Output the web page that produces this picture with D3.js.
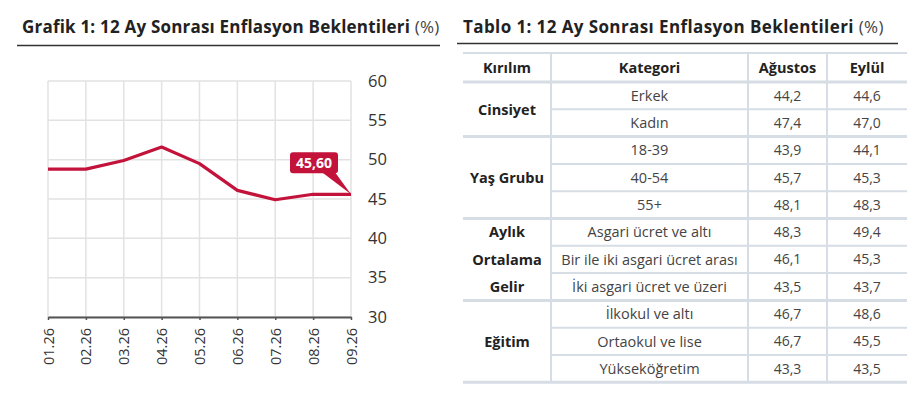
<!DOCTYPE html>
<html>
<head>
<meta charset="utf-8">
<script src="https://cdn.jsdelivr.net/npm/d3@7"></script>
<style>
  body { margin: 0; background: #fff; }
  svg { font-family: "Open Sans", sans-serif; }
</style>
</head>
<body>
<div id="chart"></div>
<script>
// chart data
var months = ["01.26", "02.26", "03.26", "04.26", "05.26", "06.26", "07.26", "08.26", "09.26"];
var expectations = [48.8, 48.8, 49.9, 51.6, 49.5, 46.1, 44.9, 45.6, 45.6];
var yTicks = [30, 35, 40, 45, 50, 55, 60];

// table data
var tableHeaders = ["Kırılım", "Kategori", "Ağustos", "Eylül"];
var groups = [
  { name: ["Cinsiyet"], size: 2 },
  { name: ["Yaş Grubu"], size: 3 },
  { name: ["Aylık", "Ortalama", "Gelir"], size: 3 },
  { name: ["Eğitim"], size: 3 }
];
var categories = ["Erkek", "Kadın", "18-39", "40-54", "55+", "Asgari ücret ve altı",
  "Bir ile iki asgari ücret arası", "İki asgari ücret ve üzeri", "İlkokul ve altı",
  "Ortaokul ve lise", "Yükseköğretim"];
var august = ["44,2", "47,4", "43,9", "45,7", "48,1", "48,3", "46,1", "43,5", "46,7", "46,7", "43,3"];
var september = ["44,6", "47,0", "44,1", "45,3", "48,3", "49,4", "45,3", "43,7", "48,6", "45,5", "43,5"];

var svgWidth = 908;
var svgHeight = 410;
var red = "#c3133b";

var svg = d3.select("#chart")
  .append("svg")
  .attr("width", svgWidth)
  .attr("height", svgHeight);

//Titles
function title(x, lineX1, lineX2, lineY, label, spacing) {
  var t = svg.append("text")
    .attr("x", x)
    .attr("y", 33)
    .attr("fill", "#222")
    .attr("font-size", "17px")
    .attr("font-weight", "bold")
    .attr("letter-spacing", spacing)
    .text(label);
  t.append("tspan")
    .attr("font-weight", "normal")
    .attr("fill", "#444")
    .text(" (%)");
  svg.append("line")
    .attr("x1", lineX1).attr("x2", lineX2)
    .attr("y1", lineY).attr("y2", lineY)
    .attr("stroke", "#333")
    .attr("stroke-width", 1.5);
}
title(22, 17, 440, 45.5, "Grafik 1: 12 Ay Sonrası Enflasyon Beklentileri", "0.2px");
title(463, 457, 898, 43.5, "Tablo 1: 12 Ay Sonrası Enflasyon Beklentileri", "0.4px");

//Line chart
var x = d3.scalePoint().domain(months).range([48, 351]);
var y = d3.scaleLinear().domain([30, 60]).range([317, 81]);

var chart = svg.append("g");

chart.selectAll(".hgrid")
  .data(yTicks)
  .enter()
  .append("line")
  .attr("x1", 48).attr("x2", 351)
  .attr("y1", d => y(d)).attr("y2", d => y(d))
  .attr("stroke", "#e2e2e2")
  .attr("stroke-width", 1.5);

chart.selectAll(".vgrid")
  .data(months)
  .enter()
  .append("line")
  .attr("x1", d => x(d)).attr("x2", d => x(d))
  .attr("y1", y(60)).attr("y2", y(30))
  .attr("stroke", "#e2e2e2")
  .attr("stroke-width", 1.5);

var rightAxis = d3.axisRight(y).tickValues(yTicks).tickSize(0).tickPadding(17);
var yAxis = chart.append("g")
  .attr("transform", "translate(351,0)")
  .call(rightAxis);
yAxis.select(".domain").remove();
yAxis.selectAll("text")
  .attr("font-family", "Open Sans")
  .attr("font-size", "16.5px")
  .attr("fill", "#333");

var bottomAxis = d3.axisBottom(x).tickSize(3).tickSizeOuter(0);
var xAxis = chart.append("g")
  .attr("transform", "translate(0," + y(30) + ")")
  .call(bottomAxis);
xAxis.select(".domain").attr("stroke", "#555").attr("stroke-width", 2);
xAxis.selectAll(".tick line").attr("stroke", "#555").attr("stroke-width", 1.5);
xAxis.selectAll("text")
  .attr("font-family", "Open Sans")
  .attr("font-size", "14.5px")
  .attr("fill", "#333")
  .attr("transform", "rotate(-90)")
  .attr("text-anchor", "end")
  .attr("x", -11)
  .attr("y", 0)
  .attr("dy", "0.35em");

var line = d3.line()
  .x((d, i) => x(months[i]))
  .y(d => y(d));

chart.append("path")
  .datum(expectations)
  .attr("d", line)
  .attr("fill", "none")
  .attr("stroke", red)
  .attr("stroke-width", 3.2)
  .attr("stroke-linejoin", "round");

//Last value callout
var lastI = expectations.length - 1;
var px = x(months[lastI]);
var py = y(expectations[lastI]);
var boxW = 48, boxH = 21;
var boxR = px - 13, boxB = py - 21;

chart.append("path")
  .attr("d", "M" + (boxR - 16) + "," + (boxB - 1) + "L" + (boxR - 3) + "," + (boxB - 1) + "L" + px + "," + py + "Z")
  .attr("fill", red);
chart.append("rect")
  .attr("x", boxR - boxW)
  .attr("y", boxB - boxH)
  .attr("width", boxW)
  .attr("height", boxH)
  .attr("rx", 3)
  .attr("fill", red);
chart.append("text")
  .attr("x", boxR - boxW / 2)
  .attr("y", boxB - boxH / 2)
  .attr("dy", "0.36em")
  .attr("text-anchor", "middle")
  .attr("fill", "#fff")
  .attr("font-size", "14px")
  .attr("font-weight", "bold")
  .text(d3.format(".2f")(expectations[lastI]).replace(".", ","));

//Table
var colEdges = [463, 551, 748, 827, 907];
var headerTop = 53, headerBottom = 82, rowH = 27.3;
var lineColor = "#d6dde4";
var table = svg.append("g");

var rowY = d3.scaleLinear().domain([0, categories.length]).range([headerBottom, headerBottom + rowH * categories.length]);

// header
table.selectAll(".head")
  .data(tableHeaders)
  .enter()
  .append("text")
  .attr("x", (d, i) => (colEdges[i] + colEdges[i + 1]) / 2)
  .attr("y", (headerTop + headerBottom) / 2)
  .attr("dy", "0.36em")
  .attr("text-anchor", "middle")
  .attr("font-size", "14.5px")
  .attr("font-weight", "bold")
  .attr("fill", "#222")
  .text(d => d);

// horizontal lines inside groups
var groupStarts = [];
var acc = 0;
groups.forEach(function(g) { groupStarts.push(acc); acc += g.size; });

var rowLines = d3.range(categories.length + 1).filter(i => groupStarts.indexOf(i) < 0 && i < categories.length);
table.selectAll(".rowline")
  .data(rowLines)
  .enter()
  .append("line")
  .attr("x1", colEdges[1]).attr("x2", colEdges[4])
  .attr("y1", d => rowY(d)).attr("y2", d => rowY(d))
  .attr("stroke", lineColor)
  .attr("stroke-width", 2);

// group lines
table.selectAll(".groupline")
  .data(groupStarts.concat([categories.length]))
  .enter()
  .append("line")
  .attr("x1", colEdges[0]).attr("x2", colEdges[4])
  .attr("y1", d => rowY(d)).attr("y2", d => rowY(d))
  .attr("stroke", lineColor)
  .attr("stroke-width", 3);

table.append("line")
  .attr("x1", colEdges[0]).attr("x2", colEdges[4])
  .attr("y1", headerTop).attr("y2", headerTop)
  .attr("stroke", lineColor)
  .attr("stroke-width", 2);

// vertical lines
table.selectAll(".colline")
  .data(colEdges.slice(1, 4))
  .enter()
  .append("line")
  .attr("x1", d => d).attr("x2", d => d)
  .attr("y1", headerTop).attr("y2", rowY(categories.length))
  .attr("stroke", lineColor)
  .attr("stroke-width", 2);

// group labels
groups.forEach(function(g, gi) {
  var mid = rowY(groupStarts[gi] + g.size / 2);
  var n = g.name.length;
  g.name.forEach(function(label, li) {
    var cy = n === 1 ? mid : rowY(groupStarts[gi] + li + 0.5);
    table.append("text")
      .attr("x", (colEdges[0] + colEdges[1]) / 2)
      .attr("y", cy)
      .attr("dy", "0.36em")
      .attr("text-anchor", "middle")
      .attr("font-size", "14.5px")
      .attr("font-weight", "bold")
      .attr("fill", "#222")
      .text(label);
  });
});

// cells
var columns = [categories, august, september];
columns.forEach(function(col, ci) {
  table.selectAll(".cell" + ci)
    .data(col)
    .enter()
    .append("text")
    .attr("x", (colEdges[ci + 1] + colEdges[ci + 2]) / 2)
    .attr("y", (d, i) => rowY(i + 0.5))
    .attr("dy", "0.36em")
    .attr("text-anchor", "middle")
    .attr("font-size", ci === 0 ? "14.5px" : "14px")
    .attr("fill", "#444")
    .text(d => d);
});
</script>
</body>
</html>
